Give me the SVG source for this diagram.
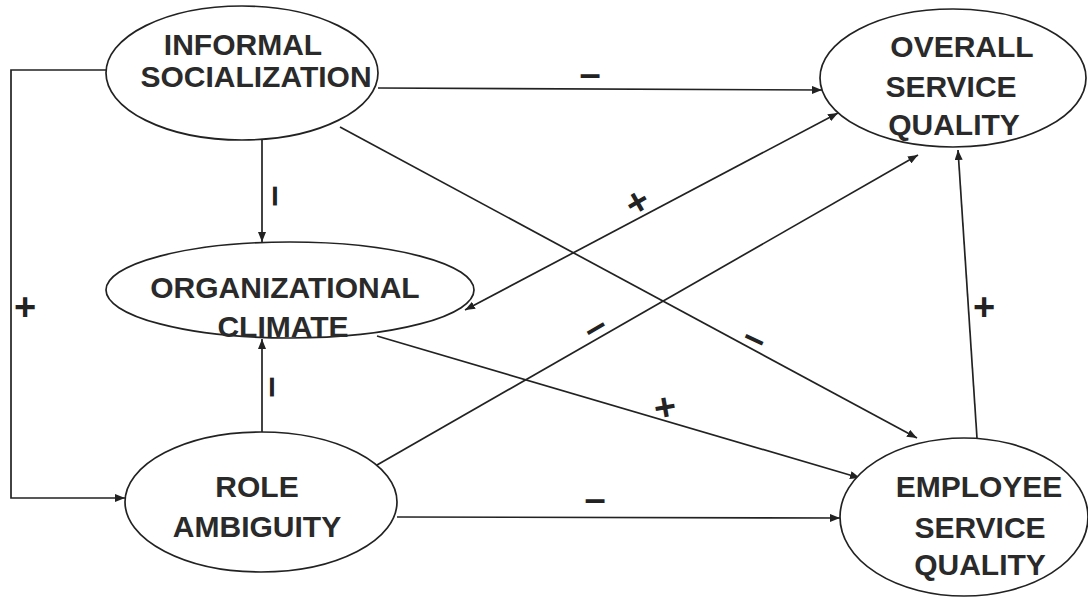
<svg xmlns="http://www.w3.org/2000/svg" width="1088" height="597" viewBox="0 0 1088 597">
<defs>
<marker id="arr" viewBox="0 0 10 8" markerWidth="10" markerHeight="8" refX="10" refY="4" orient="auto-start-reverse" markerUnits="userSpaceOnUse">
<path d="M0,0 L10,4 L0,8 z" fill="#222"/>
</marker>
<style>
.node ellipse{fill:#fff;stroke:#222;stroke-width:1.7}
.lbl{font-family:"Liberation Sans",Arial,sans-serif;font-weight:bold;font-size:30px;fill:#2a2a2a;text-anchor:middle}
.conn path{fill:none;stroke:#222;stroke-width:1.7}
.sign{font-family:"Liberation Sans",Arial,sans-serif;font-weight:bold;font-size:38px;fill:#222;text-anchor:middle}
</style>
</defs>
<rect width="1088" height="597" fill="#fff"/>
<g id="connectors" class="conn">
<path d="M378,88 L822,90" marker-end="url(#arr)"/>
<path d="M107,70 H11 V498 H125" marker-end="url(#arr)"/>
<path d="M262,140 V242" marker-end="url(#arr)"/>
<path d="M262,433 V339" marker-end="url(#arr)"/>
<path d="M340,127 L917,438" marker-end="url(#arr)"/>
<path d="M377,336 L860,478" marker-end="url(#arr)"/>
<path d="M397,517 L840,518" marker-end="url(#arr)"/>
<path d="M377,465 L918,155" marker-end="url(#arr)"/>
<path d="M465,310 L838,113" marker-start="url(#arr)" marker-end="url(#arr)"/>
<path d="M977,438 L958,150" marker-end="url(#arr)"/>
</g>
<g id="signs">
<text class="sign" x="590" y="87">–</text>
<text class="sign" x="25" y="320">+</text>
<text class="sign" transform="translate(276,196) rotate(90)" y="12">–</text>
<text class="sign" transform="translate(273,387) rotate(90)" y="12">–</text>
<text class="sign" transform="translate(637,202) rotate(-30)" y="13">+</text>
<text class="sign" transform="translate(595,327) rotate(-30)" y="12">–</text>
<text class="sign" transform="translate(755,338) rotate(25)" y="12">–</text>
<text class="sign" transform="translate(665,407) rotate(-10)" y="13">+</text>
<text class="sign" x="595" y="512">–</text>
<text class="sign" x="984" y="320">+</text>
</g>
<g id="informal-socialization" class="node">
<ellipse cx="242" cy="73" rx="136" ry="67"/>
<text class="lbl" x="243" y="55">INFORMAL</text>
<text class="lbl" x="256" y="87">SOCIALIZATION</text>
</g>
<g id="overall-service-quality" class="node">
<ellipse cx="953" cy="78" rx="133" ry="69"/>
<text class="lbl" x="962" y="57">OVERALL</text>
<text class="lbl" x="951" y="97">SERVICE</text>
<text class="lbl" x="954" y="135">QUALITY</text>
</g>
<g id="organizational-climate" class="node">
<ellipse cx="290" cy="290" rx="184" ry="48"/>
<text class="lbl" x="285" y="298">ORGANIZATIONAL</text>
<text class="lbl" x="283" y="337">CLIMATE</text>
</g>
<g id="role-ambiguity" class="node">
<ellipse cx="261" cy="502" rx="136" ry="70"/>
<text class="lbl" x="257" y="497">ROLE</text>
<text class="lbl" x="257" y="537">AMBIGUITY</text>
</g>
<g id="employee-service-quality" class="node">
<ellipse cx="964" cy="517" rx="124" ry="79"/>
<text class="lbl" x="979" y="497">EMPLOYEE</text>
<text class="lbl" x="980" y="538">SERVICE</text>
<text class="lbl" x="980" y="575">QUALITY</text>
</g>
</svg>
